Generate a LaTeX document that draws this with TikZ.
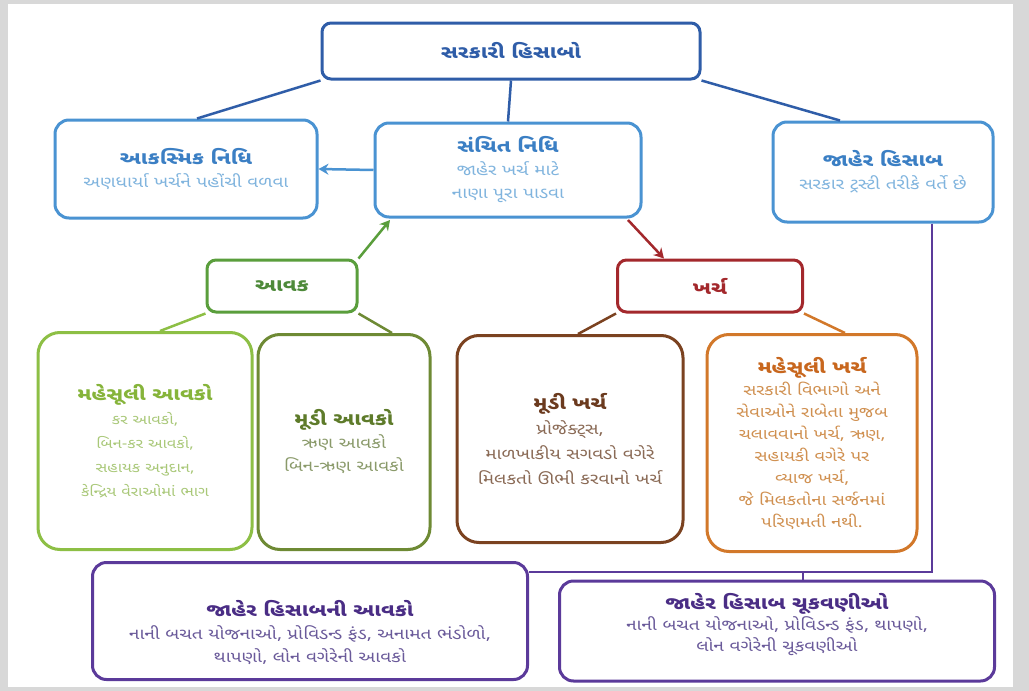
\documentclass[tikz,border=0pt]{standalone}
\usepackage{fontspec}
\newfontfamily\guj[Script=Gujarati, FakeStretch=1.22]{Noto Sans Gujarati UI}
\usetikzlibrary{arrows.meta}
\definecolor{topblue}{HTML}{2F5DA8}
\definecolor{midblue}{HTML}{4A93D2}
\definecolor{midbluet}{HTML}{3B7FC4}
\definecolor{lightbluet}{HTML}{80B4DE}
\definecolor{aavakg}{HTML}{5A9E3C}
\definecolor{aavakgt}{HTML}{4E8A3A}
\definecolor{kharchr}{HTML}{A3282C}
\definecolor{mahag}{HTML}{8DBF45}
\definecolor{mahagt}{HTML}{86B43A}
\definecolor{mahagb}{HTML}{A9C878}
\definecolor{mudig}{HTML}{6E8A34}
\definecolor{mudigt}{HTML}{5E7B2A}
\definecolor{mudigb}{HTML}{8A9A6A}
\definecolor{mudik}{HTML}{7B4220}
\definecolor{mudikt}{HTML}{6B3A1E}
\definecolor{mudikb}{HTML}{8A6A55}
\definecolor{mahak}{HTML}{D2782A}
\definecolor{mahakt}{HTML}{C8671E}
\definecolor{mahakb}{HTML}{D09050}
\definecolor{purp}{HTML}{5B3A9A}
\definecolor{purpt}{HTML}{4A2D85}
\definecolor{purpb}{HTML}{6A5A9A}
\definecolor{framegray}{HTML}{D8D8D8}
\newcommand{\ttl}[1]{{\fontsize{18}{25}\selectfont\bfseries #1}}
\begin{document}
\begin{tikzpicture}[x=1pt,y=-1pt,
  box/.style={draw, line width=3pt, rounded corners=14pt, align=center, inner sep=0pt,
    font=\guj\fontsize{15.5}{23}\selectfont},
  smallbox/.style={box, rounded corners=9pt},
  txt/.style={align=center, inner sep=0pt, font=\guj\fontsize{15.5}{23}\selectfont},
  conn/.style={line width=2.5pt},
  arr/.style={line width=2.5pt, -{Stealth[length=10pt,width=11pt]}}]
\useasboundingbox (0,0) rectangle (1029,691);
\fill[framegray] (0,0) rectangle (1029,691);
\fill[white] (8,4) rectangle (1013,687);

\node[smallbox, draw=topblue, text=topblue, minimum width=378pt, minimum height=56pt] (top) at (511,51) {\ttl{સરકારી હિસાબો}};

\node[box, draw=midblue, text=lightbluet, minimum width=262pt, minimum height=98pt] (aak) at (186,169)
  {{\color{midbluet}\ttl{આકસ્મિક નિધિ}}\\અણધાર્યા ખર્ચને પહોંચી વળવા};
\node[box, draw=midblue, text=lightbluet, minimum width=266pt, minimum height=94pt] (san) at (508,170)
  {{\color{midbluet}\ttl{સંચિત નિધિ}}\\જાહેર ખર્ચ માટે\\નાણા પૂરા પાડવા};
\node[box, draw=midblue, text=lightbluet, minimum width=220pt, minimum height=100pt] (jh) at (883,172)
  {{\color{midbluet}\ttl{જાહેર હિસાબ}}\\સરકાર ટ્રસ્ટી તરીકે વર્તે છે};

\node[smallbox, draw=aavakg, text=aavakgt, minimum width=150pt, minimum height=52pt] (aavak) at (282,286) {\ttl{આવક}};
\node[smallbox, draw=kharchr, text=kharchr, minimum width=185pt, minimum height=52pt] (kharch) at (710,286) {\ttl{ખર્ચ}};

\node[box, rounded corners=22pt, draw=mahag, text=mahagb, minimum width=214pt, minimum height=217pt,
  font=\guj\fontsize{13.5}{24}\selectfont] (maav) at (145,441)
  {{\color{mahagt}\ttl{મહેસૂલી આવકો}}\\કર આવકો,\\બિન-કર આવકો,\\સહાયક અનુદાન,\\કેન્દ્રિય વેરાઓમાં ભાગ};
\node[box, rounded corners=22pt, draw=mudig, text=mudigb, minimum width=172pt, minimum height=215pt] (muav) at (344,442)
  {{\color{mudigt}\ttl{મૂડી આવકો}}\\ઋણ આવકો\\બિન-ઋણ આવકો};
\node[box, rounded corners=22pt, draw=mudik, text=mudikb, minimum width=226pt, minimum height=207pt,
  font=\guj\fontsize{15.5}{25}\selectfont] (mukh) at (570,439)
  {{\color{mudikt}\ttl{મૂડી ખર્ચ}}\\પ્રોજેક્ટ્સ,\\માળખાકીય સગવડો વગેરે\\મિલકતો ઊભી કરવાનો ખર્ચ};
\node[box, rounded corners=22pt, draw=mahak, text=mahakb, minimum width=210pt, minimum height=217pt,
  font=\guj\fontsize{15}{22}\selectfont] (makh) at (812,443)
  {{\color{mahakt}\ttl{મહેસૂલી ખર્ચ}}\\સરકારી વિભાગો અને\\સેવાઓને રાબેતા મુજબ\\ચલાવવાનો ખર્ચ, ઋણ,\\સહાયકી વગેરે પર\\વ્યાજ ખર્ચ,\\જે મિલકતોના સર્જનમાં\\પરિણમતી નથી.};

\node[box, draw=purp, minimum width=435pt, minimum height=117pt] (jhav) at (310,621) {};
\node[txt, text=purpb] (jhavt) at (310,633)
  {{\color{purpt}\ttl{જાહેર હિસાબની આવકો}}\\નાની બચત યોજનાઓ, પ્રોવિડન્ડ ફંડ, અનામત ભંડોળો,\\થાપણો, લોન વગેરેની આવકો};
\node[box, draw=purp, minimum width=435pt, minimum height=100pt] (jhch) at (777,631) {};
\node[txt, text=purpb, font=\guj\fontsize{15.5}{21}\selectfont] (jhcht) at (777,625)
  {{\color{purpt}\ttl{જાહેર હિસાબ ચૂકવણીઓ}}\\નાની બચત યોજનાઓ, પ્રોવિડન્ડ ફંડ, થાપણો,\\લોન વગેરેની ચૂકવણીઓ};

% connectors from top
\draw[conn, topblue] (top.south west) -- (aak.north -| 197,0);
\draw[conn, topblue] (top.south) -- (san.north);
\draw[conn, topblue] (top.south east) -- (jh.north west -| 840,0);
% arrows
\draw[arr, midblue] (san.west) -- (aak.east);
\coordinate (sanbl) at (390,220);
\coordinate (sanbr) at (628,220);
\draw[arr, aavakg] (aavak.north east) -- (sanbl);
\draw[arr, kharchr] (sanbr) -- (kharch.north -| 664,0);
% tree lines
\draw[conn, mahag] (aavak.south west) -- (maav.north -| 160,0);
\draw[conn, mudig] (aavak.south east) -- (muav.north -| 392,0);
\draw[conn, mudik] (kharch.south west) -- (mukh.north -| 578,0);
\draw[conn, mahak] (kharch.south east) -- (makh.north -| 845,0);
% purple
\coordinate (pj) at (932,572);
\coordinate (tk) at (803,572);
\draw[conn, purp] (jh.south -| pj) -- (pj) -- (jhav.east |- pj);
\draw[conn, purp] (tk) -- (tk |- jhch.north);
\end{tikzpicture}
\end{document}
